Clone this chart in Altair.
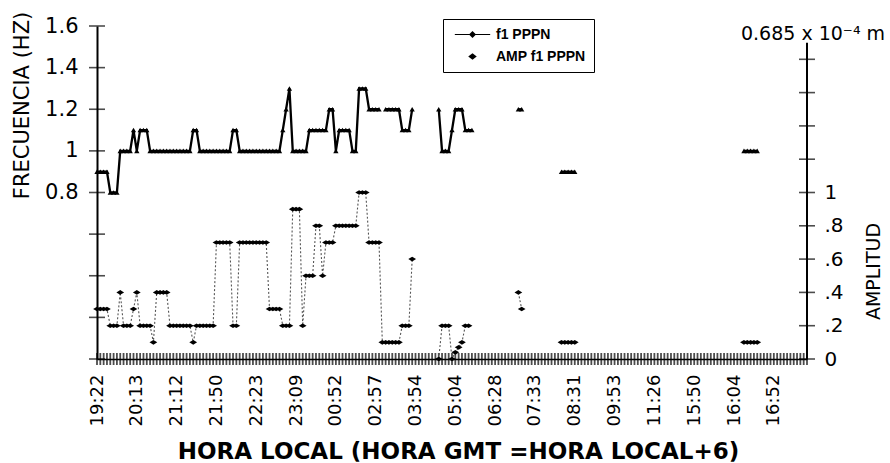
import altair as alt
import pandas as pd

# Hour labels shown on the time axis (one every 12 samples)
hora_local = ["19:22", "20:13", "21:12", "21:50", "22:23", "23:09", "00:52", "02:57",
              "03:54", "05:04", "06:28", "07:33", "08:31", "09:53", "11:26", "15:50",
              "16:04", "16:52"]
paso_etiqueta = 12
n_muestras = 215

N = None
# f1 PPPN frequency (Hz), one value per sample, rows of 12 samples
f1_pppn = [
    0.9, 0.9, 0.9, 0.9, 0.8, 0.8, 0.8, 1.0, 1.0, 1.0, 1.0, 1.1,
    1.0, 1.1, 1.1, 1.1, 1.0, 1.0, 1.0, 1.0, 1.0, 1.0, 1.0, 1.0,
    1.0, 1.0, 1.0, 1.0, 1.0, 1.1, 1.1, 1.0, 1.0, 1.0, 1.0, 1.0,
    1.0, 1.0, 1.0, 1.0, 1.0, 1.1, 1.1, 1.0, 1.0, 1.0, 1.0, 1.0,
    1.0, 1.0, 1.0, 1.0, 1.0, 1.0, 1.0, 1.0, 1.1, 1.2, 1.3, 1.0,
    1.0, 1.0, 1.0, 1.0, 1.1, 1.1, 1.1, 1.1, 1.1, 1.1, 1.2, 1.2,
    1.0, 1.1, 1.1, 1.1, 1.1, 1.0, 1.0, 1.3, 1.3, 1.3, 1.2, 1.2,
    1.2, 1.2, N, 1.2, 1.2, 1.2, 1.2, 1.2, 1.1, 1.1, 1.1, 1.2,
    N, N, N, N, N, N, N, 1.2, 1.0, 1.0, 1.0, 1.1,
    1.2, 1.2, 1.2, 1.1, 1.1, 1.1, N, N, N, N, N, N,
    N, N, N, N, N, N, N, 1.2, 1.2, N, N, N,
    N, N, N, N, N, N, N, N, 0.9, 0.9, 0.9, 0.9,
    0.9, N, N, N, N, N, N, N, N, N, N, N,
    N, N, N, N, N, N, N, N, N, N, N, N,
    N, N, N, N, N, N, N, N, N, N, N, N,
    N, N, N, N, N, N, N, N, N, N, N, N,
    N, N, N, 1.0, 1.0, 1.0, 1.0, 1.0, N, N, N, N,
    N, N, N, N, N, N, N, N, N, N, N,
]

# Amplitude of f1 PPPN (units of 0.685 x 10^-4 m)
amp_f1_pppn = [
    0.3, 0.3, 0.3, 0.3, 0.2, 0.2, 0.2, 0.4, 0.2, 0.2, 0.2, 0.3,
    0.4, 0.2, 0.2, 0.2, 0.2, 0.1, 0.4, 0.4, 0.4, 0.4, 0.2, 0.2,
    0.2, 0.2, 0.2, 0.2, 0.2, 0.1, 0.2, 0.2, 0.2, 0.2, 0.2, 0.2,
    0.7, 0.7, 0.7, 0.7, 0.7, 0.2, 0.2, 0.7, 0.7, 0.7, 0.7, 0.7,
    0.7, 0.7, 0.7, 0.7, 0.3, 0.3, 0.3, 0.3, 0.2, 0.2, 0.2, 0.9,
    0.9, 0.9, 0.2, 0.5, 0.5, 0.5, 0.8, 0.8, 0.5, 0.7, 0.7, 0.7,
    0.8, 0.8, 0.8, 0.8, 0.8, 0.8, 0.8, 1.0, 1.0, 1.0, 0.7, 0.7,
    0.7, 0.7, 0.1, 0.1, 0.1, 0.1, 0.1, 0.1, 0.2, 0.2, 0.2, 0.6,
    N, N, N, N, N, N, N, 0.0, 0.2, 0.2, 0.2, 0.0,
    0.04, 0.07, 0.1, 0.2, 0.2, N, N, N, N, N, N, N,
    N, N, N, N, N, N, N, 0.4, 0.3, N, N, N,
    N, N, N, N, N, N, N, N, 0.1, 0.1, 0.1, 0.1,
    0.1, N, N, N, N, N, N, N, N, N, N, N,
    N, N, N, N, N, N, N, N, N, N, N, N,
    N, N, N, N, N, N, N, N, N, N, N, N,
    N, N, N, N, N, N, N, N, N, N, N, N,
    N, N, N, 0.1, 0.1, 0.1, 0.1, 0.1, N, N, N, N,
    N, N, N, N, N, N, N, N, N, N, N,
]

ticks_frecuencia = [0, 0.2, 0.4, 0.6, 0.8, 1.0, 1.2, 1.4, 1.6]
ticks_amplitud = [0, 0.2, 0.4, 0.6, 0.8, 1.0, 1.2, 1.4, 1.6, 1.8]
tope_eje_amplitud = 1.9
series = ["f1 PPPN", "AMP f1 PPPN"]

df = pd.DataFrame({"idx": list(range(n_muestras)),
                   "f1": pd.Series(f1_pppn, dtype="float"),
                   "amp": pd.Series(amp_f1_pppn, dtype="float")})
# contiguous runs, so that lines break where samples are missing
df["tramo_f1"] = df["f1"].isna().cumsum()
df["tramo_amp"] = df["amp"].isna().cumsum()
df_f1 = df.dropna(subset=["f1"])
df_amp = df.dropna(subset=["amp"])

FUENTE = "DejaVu Sans"
ancho, alto = 710, 333
idx_max = n_muestras - 1

etiquetas_js = "[" + ",".join(f"'{h}'" for h in hora_local) + "]"
x_scale = alt.Scale(domain=[0, idx_max], nice=False, zero=False)
x_axis = alt.Axis(
    values=[i * paso_etiqueta for i in range(len(hora_local))],
    labelExpr=f"{etiquetas_js}[round(datum.value / {paso_etiqueta})]",
    labelAngle=270, labelAlign="right", labelBaseline="middle",
    labelFlush=False, labelOverlap=False, labelPadding=15,
    labelFont=FUENTE, labelFontSize=18, labelColor="black",
    ticks=False, tickSize=0, grid=False,
    domainColor="black", domainWidth=1.5,
    title="HORA LOCAL (HORA GMT =HORA LOCAL+6)", titleFont=FUENTE,
    titleFontSize=23, titleFontWeight="bold", titleColor="black",
    titleX=361, titleY=92, titleAlign="center", titleBaseline="middle",
)
X = alt.X("idx:Q", scale=x_scale, axis=x_axis)

yl_scale = alt.Scale(domain=[0, 1.6], nice=False, zero=True)
yl_axis = alt.Axis(
    orient="left", values=ticks_frecuencia,
    labelExpr="datum.value >= 0.79 ? format(datum.value, '~g') : ''",
    labelFont=FUENTE, labelFontSize=21, labelColor="black", labelPadding=19,
    ticks=False, tickSize=0, grid=False, domainColor="black", domainWidth=2,
    title="FRECUENCIA (HZ)", titleFont=FUENTE, titleFontSize=21,
    titleFontWeight="normal", titleColor="black", titleAngle=270,
    titleX=-75, titleY=79, titleAlign="center", titleBaseline="middle",
)

yr_scale = alt.Scale(domain=[0, 2.0], nice=False, zero=True)
yr_axis = alt.Axis(
    orient="right", values=ticks_amplitud,
    labelExpr="datum.value > 1.05 ? '' : datum.value < 0.05 ? '0' : "
              "datum.value > 0.95 ? '1' : replace(format(datum.value, '.1f'), '0.', '.')",
    labelFont=FUENTE, labelFontSize=20, labelColor="black", labelPadding=17,
    labelAlign="left",
    ticks=False, tickSize=0, grid=False, domain=False,
    title="AMPLITUD", titleFont=FUENTE, titleFontSize=19,
    titleFontWeight="normal", titleColor="black", titleAngle=270,
    titleX=66, titleY=245, titleAlign="center", titleBaseline="middle",
)

# frequency series (left axis)
linea_f1 = alt.Chart(df_f1).mark_line(color="black", strokeWidth=2.3).encode(
    x=X, y=alt.Y("f1:Q", scale=yl_scale, axis=yl_axis), detail="tramo_f1:N")
puntos_f1 = alt.Chart(df_f1).mark_point(
    shape="triangle-up", filled=True, size=28, color="black", opacity=1).encode(
    x=X, y=alt.Y("f1:Q", scale=yl_scale, axis=yl_axis))

# crossing tick marks on the category axis and on the left axis
marcas_x = alt.Chart(pd.DataFrame({"idx": list(range(n_muestras))})).mark_tick(
    color="black", thickness=1.8, size=12, orient="vertical").encode(
    x=X, y=alt.YDatum(0, scale=yl_scale, axis=yl_axis))
marcas_yl = alt.Chart(pd.DataFrame({"v": ticks_frecuencia})).mark_tick(
    color="black", thickness=1.6, size=16, orient="horizontal").encode(
    x=alt.XDatum(0, scale=x_scale, axis=x_axis),
    y=alt.Y("v:Q", scale=yl_scale, axis=yl_axis))

# legend entries: a line with a marker, and a marker alone
rombo_linea = "M-2.5,-0.08H2.5V0.08H-2.5ZM0,-0.5L0.5,0L0,0.5L-0.5,0Z"
rombo = "M0,-0.45L0.6,0L0,0.45L-0.6,0Z"
leyenda = alt.Chart(pd.DataFrame({"serie": series})).mark_point(
    filled=True, color="black", opacity=0).encode(
    x=alt.value(0), y=alt.value(0),
    shape=alt.Shape("serie:N", sort=series,
                    scale=alt.Scale(domain=series, range=[rombo_linea, rombo]),
                    legend=alt.Legend(
                        orient="none", legendX=346, legendY=-7, title=None,
                        padding=8, strokeColor="black", fillColor="white",
                        labelFont="Liberation Sans", labelFontSize=14,
                        labelFontWeight="bold", labelColor="black",
                        symbolSize=200, symbolStrokeWidth=0,
                        symbolFillColor="black", symbolStrokeColor="black",
                        symbolOpacity=1, symbolOffset=14, labelOffset=16,
                        rowPadding=7)))

izquierda = alt.layer(linea_f1, puntos_f1, marcas_x, marcas_yl, leyenda)

# amplitude series (right axis)
linea_amp = alt.Chart(df_amp).mark_line(
    color="#555555", strokeWidth=1.1, strokeDash=[2, 2]).encode(
    x=X, y=alt.Y("amp:Q", scale=yr_scale, axis=yr_axis), detail="tramo_amp:N")
puntos_amp = alt.Chart(df_amp).mark_point(
    shape="M-1,0L0,-0.6L1,0L0,0.6Z", filled=True, size=60, color="black",
    opacity=1).encode(
    x=X, y=alt.Y("amp:Q", scale=yr_scale, axis=yr_axis))
eje_amp = alt.Chart(pd.DataFrame({"v": [0]})).mark_rule(
    color="black", strokeWidth=2).encode(
    x=alt.XDatum(idx_max, scale=x_scale, axis=x_axis),
    y=alt.YDatum(0, scale=yr_scale, axis=yr_axis),
    y2=alt.Y2Datum(tope_eje_amplitud))
marcas_yr = alt.Chart(pd.DataFrame({"v": ticks_amplitud})).mark_tick(
    color="black", thickness=1.6, size=16, orient="horizontal").encode(
    x=alt.XDatum(idx_max, scale=x_scale, axis=x_axis),
    y=alt.Y("v:Q", scale=yr_scale, axis=yr_axis))
unidad = alt.Chart(pd.DataFrame({"t": ["0.685 x 10\u207b\u2074 m"]})).mark_text(
    font=FUENTE, fontSize=19, color="black", align="center", baseline="middle").encode(
    text="t:N", x=alt.value(716), y=alt.value(8))

derecha = alt.layer(linea_amp, puntos_amp, eje_amp, marcas_yr, unidad)

chart = alt.layer(izquierda, derecha).resolve_scale(y="independent").properties(
    width=ancho, height=alto,
    autosize=alt.AutoSizeParams(type="none"),
    padding={"left": 97, "top": 26, "right": 83, "bottom": 104},
    background="white",
).configure_view(stroke=None)

chart.save("out.html", embed_options={"renderer": "svg", "actions": False})
